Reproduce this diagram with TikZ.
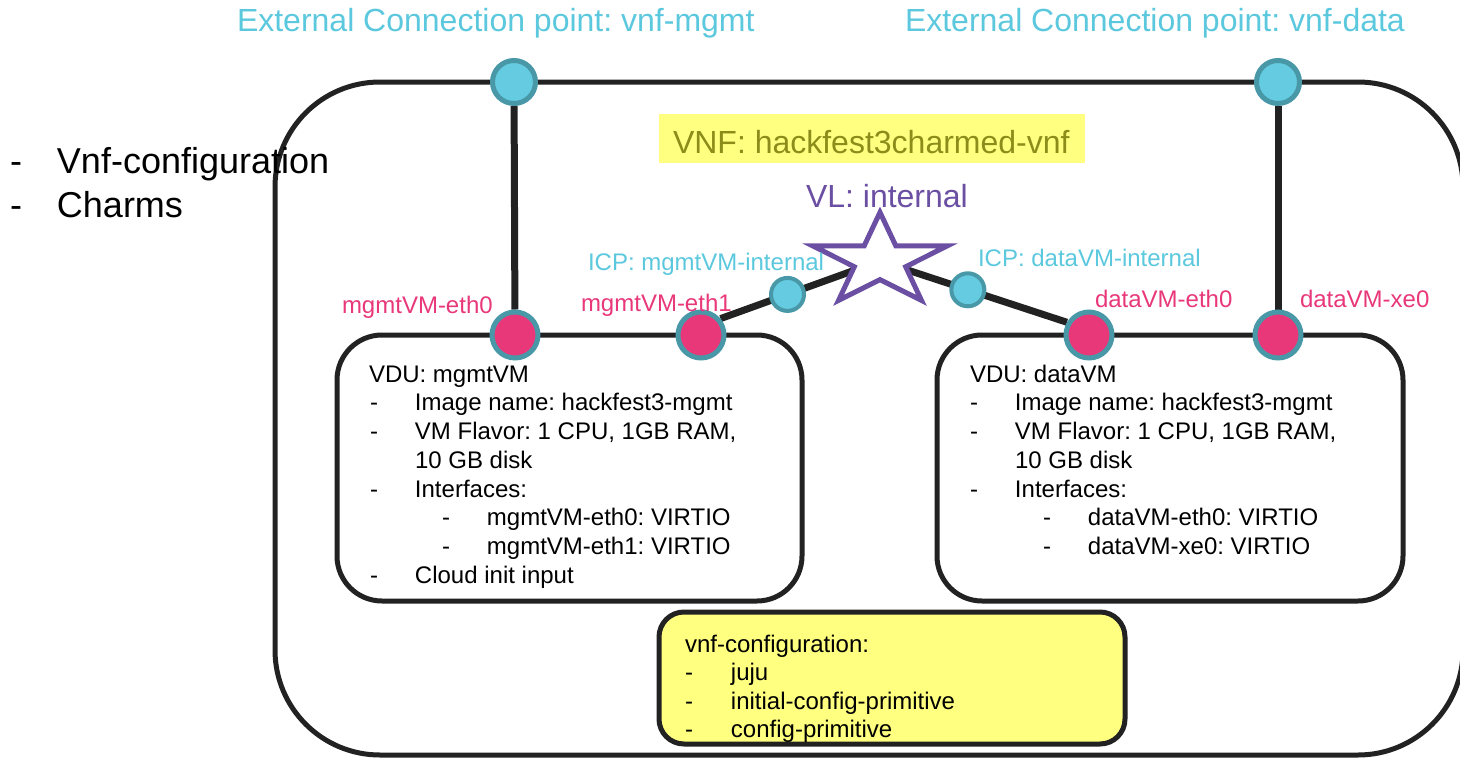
\documentclass[tikz,border=0pt]{standalone}
\usepackage{fontspec}
\setmainfont{Liberation Sans}
\frenchspacing
\definecolor{cyanT}{HTML}{5BC8DE}
\definecolor{cpfill}{HTML}{64CBE0}
\definecolor{cpedge}{HTML}{4898A8}
\definecolor{pinkF}{HTML}{E8387A}
\definecolor{dark}{HTML}{222222}
\definecolor{olive}{HTML}{8C8C1A}
\definecolor{hl}{HTML}{FFFF80}
\definecolor{purp}{HTML}{6B4FA3}
\pgfdeclarelayer{back}
\pgfdeclarelayer{bg}
\pgfsetlayers{back,bg,main}
\begin{document}
\frenchspacing
\begin{tikzpicture}[x=1pt,y=-1pt,
  ecp/.style={circle, draw=cpedge, fill=cpfill, line width=5pt, minimum size=43pt, inner sep=0pt},
  pcp/.style={circle, draw=cpedge, fill=pinkF, line width=5pt, minimum size=46pt, inner sep=0pt},
  icp/.style={circle, draw=cpedge, fill=cpfill, line width=4pt, minimum size=33pt, inner sep=0pt},
  link/.style={draw=dark, line width=7pt},
  frame/.style={draw=dark, line width=5pt},
  txt/.style={anchor=base west, inner sep=0pt, outer sep=0pt},
  big/.style={txt, font=\fontsize{32}{38}\selectfont\frenchspacing},
  mid/.style={txt, font=\fontsize{24}{29}\selectfont\frenchspacing},
  huge/.style={txt, font=\fontsize{36}{43}\selectfont\frenchspacing},
]
\useasboundingbox (0,0) rectangle (1460,758);

% outer VNF frame
\begin{pgfonlayer}{back}
\draw[frame, rounded corners=105pt] (275,82) rectangle (1463,755);
\fill[hl] (659,114) rectangle (1085,163);
\end{pgfonlayer}

% VDU boxes
\draw[frame, rounded corners=45pt] (337,335) rectangle (802,601);
\draw[frame, rounded corners=45pt] (937,335) rectangle (1403,601);
% vnf-configuration box
\draw[frame, fill=hl, rounded corners=25pt] (659,612) rectangle (1125,744);

% connection points
\node[ecp] (ecpm) at (514,82) {};
\node[ecp] (ecpd) at (1278,82) {};
\node[pcp] (meth0) at (515,335) {};
\node[pcp] (meth1) at (701,335) {};
\node[pcp] (deth0) at (1089,335) {};
\node[pcp] (dxe0) at (1278,335) {};
\coordinate (vl) at (880,261);

% connectors
\begin{pgfonlayer}{bg}
\draw[link] (ecpm) -- (meth0);
\draw[link] (ecpd) -- (dxe0);
\draw[link] (meth1.40) -- (vl);
\draw[link] (vl) -- (deth0.150);
\end{pgfonlayer}
\path (meth1.40) -- node[pos=0.42, icp] (icpm) {} (vl);
\path (vl) -- node[pos=0.47, icp] (icpd) {} (deth0.150);

% star (VL)
\begin{scope}[shift={(vl)}, yscale=-0.69]
\draw[draw=purp, fill=white, line width=5pt, line join=miter]
  (90:70.5) -- (126:27) -- (162:70.5) -- (198:27) -- (234:70.5) -- (270:27)
  -- (306:70.5) -- (342:27) -- (18:70.5) -- (54:27) -- cycle;
\end{scope}

% titles
\node[big, text=cyanT] (t1) at (237,31) {External Connection point: vnf-mgmt};
\node[big, text=cyanT] (t2) at (905,31) {External Connection point: vnf-data};
\node[big, text=olive] (vnf) at (673,153) {VNF: hackfest3charmed-vnf};
\node[big, text=purp] (vll) at (806,207) {VL: internal};

% left list
\node[huge] (l1) at (10,173) {\makebox[47pt][l]{-}Vnf-configuration};
\node[huge] (l2) at (10,217) {\makebox[47pt][l]{-}Charms};

% ICP labels
\node[mid, text=cyanT] (icpml) at (588,270) {ICP: mgmtVM-internal};
\node[mid, text=cyanT] (icpdl) at (978,266) {ICP: dataVM-internal};

% interface labels
\node[mid, text=pinkF] (lm0) at (342,313) {mgmtVM-eth0};
\node[mid, text=pinkF] (lm1) at (581,311) {mgmtVM-eth1};
\node[mid, text=pinkF] (ld0) at (1095,307) {dataVM-eth0};
\node[mid, text=pinkF] (ld1) at (1300,307) {dataVM-xe0};

% mgmtVM text
\node[mid] (a0) at (369,382) {VDU: mgmtVM};
\node[mid] (a1) at (370,410.8) {\makebox[45pt][l]{-}Image name: hackfest3-mgmt};
\node[mid] (a2) at (370,439.5) {\makebox[45pt][l]{-}VM Flavor: 1 CPU, 1GB RAM,};
\node[mid] (a3) at (415,468.3) {10 GB disk};
\node[mid] (a4) at (370,497) {\makebox[45pt][l]{-}Interfaces:};
\node[mid] (a5) at (442,525.8) {\makebox[45pt][l]{-}mgmtVM-eth0: VIRTIO};
\node[mid] (a6) at (442,554.5) {\makebox[45pt][l]{-}mgmtVM-eth1: VIRTIO};
\node[mid] (a7) at (370,583.3) {\makebox[45pt][l]{-}Cloud init input};

% dataVM text
\node[mid] (b0) at (970,382) {VDU: dataVM};
\node[mid] (b1) at (970,410.8) {\makebox[45pt][l]{-}Image name: hackfest3-mgmt};
\node[mid] (b2) at (970,439.5) {\makebox[45pt][l]{-}VM Flavor: 1 CPU, 1GB RAM,};
\node[mid] (b3) at (1015,468.3) {10 GB disk};
\node[mid] (b4) at (970,497) {\makebox[45pt][l]{-}Interfaces:};
\node[mid] (b5) at (1043,525.8) {\makebox[45pt][l]{-}dataVM-eth0: VIRTIO};
\node[mid] (b6) at (1043,554.5) {\makebox[45pt][l]{-}dataVM-xe0: VIRTIO};

% vnf-configuration text
\node[mid] (c0) at (685,652) {vnf-configuration:};
\node[mid] (c1) at (685,680.5) {\makebox[46pt][l]{-}juju};
\node[mid] (c2) at (685,709) {\makebox[46pt][l]{-}initial-config-primitive};
\node[mid] (c3) at (685,737.5) {\makebox[46pt][l]{-}config-primitive};
\end{tikzpicture}
\end{document}
